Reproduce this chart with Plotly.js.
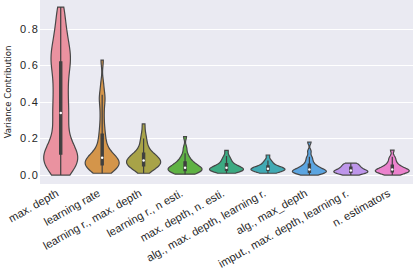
<!DOCTYPE html>
<html>
<head>
<meta charset="utf-8">
<script src="https://cdn.plot.ly/plotly-3.0.1.min.js"></script>
<style>
  html, body { margin: 0; padding: 0; background: #ffffff; }
  #chart { width: 415px; height: 273px; }
  .ytick text { letter-spacing: 1.2px; }
</style>
</head>
<body>
<div id="chart"></div>
<script>
// Category labels (x axis)
const categories = [
  "max. depth",
  "learning rate",
  "learning r., max. depth",
  "learning r., n esti.",
  "max. depth, n. esti.",
  "alg., max. depth, learning r.",
  "alg., max_depth",
  "imput., max. depth, learning r.",
  "n. estimators"
];

// Variance-contribution samples per category (read/estimated from the picture)
const maxDepth = [0.00,0.02,0.03,0.05,0.06,0.07,0.08,0.09,0.10,0.11,0.12,0.13,0.14,0.16,0.18,0.21,0.24,0.27,0.30,0.33,
                  0.35,0.38,0.41,0.44,0.47,0.50,0.53,0.56,0.59,0.61,0.63,0.65,0.67,0.69,0.72,0.75,0.78,0.82,0.87,0.92];
const learningRate = [0.01,0.02,0.03,0.03,0.04,0.04,0.05,0.05,0.06,0.06,0.07,0.07,0.08,0.08,0.09,0.09,
                      0.10,0.10,0.11,0.12,0.14,0.16,0.18,0.21,0.24,0.28,0.33,0.38,0.42,0.44,0.50,0.63];
const lrMaxDepth = [0.01,0.02,0.03,0.04,0.04,0.05,0.05,0.05,0.06,0.06,0.07,0.07,0.07,0.08,0.08,
                    0.08,0.09,0.09,0.10,0.10,0.11,0.11,0.12,0.13,0.14,0.16,0.18,0.20,0.23,0.28];
const lrNEsti = [0.005,0.01,0.01,0.015,0.02,0.02,0.025,0.03,0.03,0.035,0.035,0.04,0.04,0.045,0.05,
                 0.055,0.06,0.065,0.07,0.08,0.09,0.10,0.12,0.15,0.21];
const maxDepthNEsti = [0.01,0.015,0.02,0.02,0.025,0.025,0.03,0.03,0.035,0.035,0.04,0.04,0.045,0.05,
                       0.055,0.06,0.07,0.08,0.09,0.105,0.135];
const algMaxDepthLr = [0.01,0.015,0.02,0.02,0.025,0.03,0.03,0.03,0.035,0.035,0.04,0.04,0.045,0.05,
                       0.06,0.07,0.08,0.11];
const algMaxDepth = [0.0,0.005,0.01,0.01,0.015,0.015,0.02,0.02,0.02,0.025,0.03,0.03,0.035,0.04,0.045,
                     0.05,0.06,0.07,0.085,0.10,0.13,0.18];
const imputMaxDepthLr = [0.0,0.005,0.01,0.01,0.015,0.015,0.02,0.02,0.02,0.025,0.025,0.03,0.035,0.04,
                         0.045,0.05,0.055,0.06,0.065];
const nEstimators = [0.0,0.005,0.01,0.015,0.015,0.02,0.02,0.025,0.025,0.03,0.03,0.035,0.04,0.045,0.05,
                     0.06,0.07,0.085,0.10,0.137];

const series = [maxDepth, learningRate, lrMaxDepth, lrNEsti, maxDepthNEsti,
                algMaxDepthLr, algMaxDepth, imputMaxDepthLr, nEstimators];

// Y tick values
const yTicks = [0.0, 0.2, 0.4, 0.6, 0.8];

// Styles
const fills = ["#ea92a0", "#d4954a", "#a8a348", "#5fb244", "#3caa82",
               "#41aab4", "#5ca5e1", "#be96eb", "#eb82cd"];
const bandwidths = [0.06, 0.035, 0.025, 0.016, 0.013, 0.012, 0.012, 0.011, 0.012];
const edge = "#474747";

function median(arr) {
  const s = arr.slice().sort((a, b) => a - b);
  const n = s.length;
  return n % 2 ? s[(n - 1) / 2] : (s[n / 2 - 1] + s[n / 2]) / 2;
}

const traces = series.map((vals, i) => ({
  type: "violin",
  x: vals.map(() => categories[i]),
  y: vals,
  name: categories[i],
  fillcolor: fills[i],
  opacity: 1,
  line: { color: edge, width: 1.2 },
  spanmode: "hard",
  bandwidth: bandwidths[i],
  scalemode: "width",
  width: 0.82,
  points: false,
  box: { visible: true, width: 0.065, fillcolor: "#3f3f3f", line: { color: "#3f3f3f", width: 1.2 } },
  meanline: { visible: false },
  hoverinfo: "skip",
  showlegend: false
}));

traces.push({
  type: "scatter",
  mode: "markers",
  x: categories,
  y: series.map(median),
  marker: { color: "#ffffff", size: 2.5 },
  hoverinfo: "skip",
  showlegend: false
});

const layout = {
  width: 415,
  height: 273,
  margin: { l: 40, r: 2, t: 0, b: 89 },
  paper_bgcolor: "#ffffff",
  plot_bgcolor: "#eaeaf2",
  violinmode: "overlay",
  font: { family: "Liberation Sans, Arial, sans-serif", color: "#262626" },
  xaxis: {
    type: "category",
    categoryorder: "array",
    categoryarray: categories,
    range: [-0.5, categories.length - 0.5],
    showgrid: false,
    zeroline: false,
    showline: false,
    ticks: "",
    tickangle: -29.5,
    ticklabelstandoff: 0,
    ticklabelshift: -4,
    tickfont: { size: 11.2, color: "#262626" },
    automargin: false,
    fixedrange: true
  },
  yaxis: {
    range: [-0.049, 0.959],
    tickvals: yTicks,
    ticktext: yTicks.map(v => v.toFixed(1)),
    showgrid: true,
    gridcolor: "#ffffff",
    gridwidth: 1,
    zeroline: false,
    showline: false,
    ticks: "",
    tickfont: { size: 11, color: "#262626" },
    automargin: false,
    fixedrange: true,
    title: {
      text: "Variance Contribution",
      standoff: 6,
      font: { family: "Liberation Sans Narrow, DejaVu Sans Condensed, Arial Narrow, sans-serif", size: 9.5, color: "#262626" }
    }
  }
};

Plotly.newPlot("chart", traces, layout, { displayModeBar: false, staticPlot: true });
</script>
</body>
</html>
